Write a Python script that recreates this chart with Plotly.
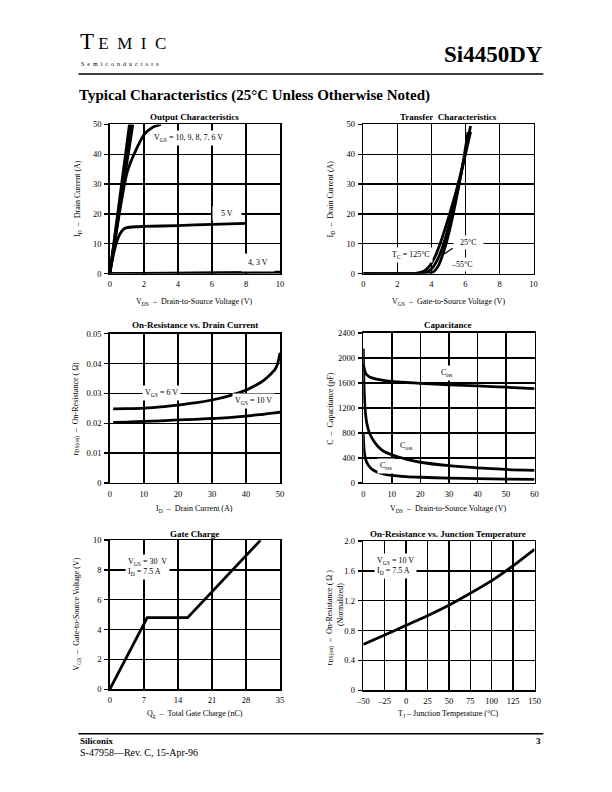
import plotly.graph_objects as go

W, H = 612, 792
SERIF = "Liberation Serif"

# ---------------- data ----------------
# Output characteristics (V_DS in V, I_D in A)
out_vds_10 = [0, 1.15]; out_id_10 = [0, 50]
out_vds_9 = [0, 1.21]; out_id_9 = [0, 50]
out_vds_8 = [0, 1.28]; out_id_8 = [0, 50]
out_vds_7 = [0, 1.36]; out_id_7 = [0, 50]
out_vds_6 = [0, 0.5, 0.8, 1.0, 1.2, 1.5, 1.8, 2.0, 2.5, 3.0]
out_id_6 = [0, 18, 28, 33.5, 37, 41, 44.5, 46.5, 49, 50]
out_vds_5 = [0, 0.2, 0.4, 0.6, 0.8, 1.0, 1.5, 2, 4, 6, 8]
out_id_5 = [0, 6, 10.5, 13.3, 14.8, 15.4, 15.7, 15.8, 16.1, 16.5, 16.8]
out_vds_4 = [0, 10]; out_id_4 = [0, 0.5]
out_vds_3 = [0, 10]; out_id_3 = [0, 0.25]

# Transfer characteristics (V_GS in V, I_D in A)
tr_vgs_125 = [0, 3.0, 3.3, 3.6, 3.9, 4.2, 4.5, 4.8, 5.1, 5.4, 5.7, 6.0, 6.3]
tr_id_125 = [0, 0, 0.3, 1.0, 2.6, 5.5, 9.8, 15, 20.5, 26.5, 33, 40, 47.5]
tr_vgs_25 = [0, 3.4, 3.7, 4.0, 4.3, 4.6, 4.9, 5.2, 5.5, 5.8, 6.1, 6.3]
tr_id_25 = [0, 0, 0.4, 1.5, 4.0, 8.0, 13.5, 20, 27, 35, 43.5, 49.5]
tr_vgs_m55 = [0, 3.8, 4.1, 4.4, 4.7, 5.0, 5.3, 5.6, 5.9, 6.15]
tr_id_m55 = [0, 0, 0.5, 2.5, 7, 13, 20.5, 29, 38.5, 47.5]
tr_leader_v = [4.75, 5.25]
tr_leader_i = [6.6, 8.5]

# On-resistance vs drain current
ron_id = [1, 5, 10, 15, 20, 25, 30, 35, 40, 43, 45, 47, 48.5, 49.3, 50]
ron_vgs6 = [0.0248, 0.0249, 0.0251, 0.0255, 0.0261, 0.0268, 0.0278, 0.0292,
            0.0311, 0.0328, 0.0342, 0.0362, 0.038, 0.040, 0.0436]
ron_vgs10 = [0.0203, 0.0204, 0.0206, 0.0208, 0.0211, 0.0213, 0.0216, 0.0219,
             0.0224, 0.0228, 0.023, 0.0233, 0.0235, 0.0236, 0.0237]

# Capacitance (pF)
cap_vds = [0, 0.3, 0.7, 1.2, 2, 3, 5, 7, 10, 15, 20, 30, 40, 50, 60]
cap_ciss = [1900, 1830, 1770, 1730, 1700, 1680, 1655, 1640, 1622, 1605, 1592, 1568, 1550, 1530, 1508]
cap_coss = [2150, 1500, 1150, 960, 820, 720, 590, 510, 450, 380, 330, 275, 240, 215, 200]
cap_crss = [780, 520, 400, 330, 270, 220, 170, 145, 120, 100, 90, 76, 67, 60, 55]

# Gate charge
gc_qg = [0, 7.7, 16, 31]
gc_vgs = [0, 4.8, 4.8, 10]

# On-resistance vs junction temperature
tj_temp = [-50, -25, 0, 25, 50, 75, 100, 125, 150]
tj_rnorm = [0.615, 0.74, 0.87, 1.0, 1.14, 1.3, 1.47, 1.67, 1.89]
tj_ticks = [-50, -25, 0, 25, 50, 75, 100, 125, 150]
tj_ticktext = ["–50", "–25", "0", "25", "50", "75", "100", "125", "150"]
tj_yticks = [0, 0.4, 0.8, 1.2, 1.6, 2.0]
tj_yticktext = ["0", "0.4", "0.8", "1.2", "1.6", "2.0"]


def px(x):
    return x / W


def py(y):
    return 1 - y / H


fig = go.Figure()
LW = 2.8


def line(x, y, ax, shape="spline", width=LW):
    fig.add_trace(go.Scatter(
        x=x, y=y, mode="lines", xaxis="x" + ax, yaxis="y" + ax,
        line=dict(color="black", width=width, shape=shape, smoothing=0.6),
        hoverinfo="skip", showlegend=False))


# chart 1
for xs, ys in [(out_vds_10, out_id_10), (out_vds_9, out_id_9), (out_vds_8, out_id_8),
               (out_vds_7, out_id_7), (out_vds_4, out_id_4), (out_vds_3, out_id_3)]:
    line(xs, ys, "", shape="linear", width=2.6)
line(out_vds_6, out_id_6, "")
line(out_vds_5, out_id_5, "")
# chart 2
line(tr_vgs_125, tr_id_125, "2")
line(tr_vgs_25, tr_id_25, "2")
line(tr_vgs_m55, tr_id_m55, "2")
line(tr_leader_v, tr_leader_i, "2", shape="linear", width=1.2)
# chart 3
line(ron_id, ron_vgs6, "3")
line(ron_id, ron_vgs10, "3")
# chart 4
line(cap_vds, cap_ciss, "4")
line(cap_vds, cap_coss, "4")
line(cap_vds, cap_crss, "4")
# chart 5
line(gc_qg, gc_vgs, "5", shape="linear")
# chart 6
line(tj_temp, tj_rnorm, "6")


def xaxis(x0, x1, rng, dtick, anchor, **kw):
    d = dict(domain=[px(x0), px(x1)], range=rng, dtick=dtick, anchor=anchor,
             showgrid=True, gridcolor="black", gridwidth=1.4,
             showline=True, linecolor="black", linewidth=1.6, mirror=True,
             zeroline=False, ticks="", ticklabelstandoff=2,
             tickfont=dict(family=SERIF, size=8.5, color="black"))
    d.update(kw)
    return d


def yaxis(y0, y1, rng, dtick, anchor, **kw):
    d = dict(domain=[py(y1), py(y0)], range=rng, dtick=dtick, anchor=anchor,
             showgrid=True, gridcolor="black", gridwidth=1.4,
             showline=True, linecolor="black", linewidth=1.6, mirror=True,
             zeroline=False, ticks="outside", ticklen=4, tickwidth=1.4,
             tickcolor="black", ticklabelstandoff=1,
             tickfont=dict(family=SERIF, size=8.5, color="black"))
    d.update(kw)
    return d


fig.update_layout(
    width=W, height=H, margin=dict(l=0, r=0, t=0, b=0),
    paper_bgcolor="white", plot_bgcolor="white", showlegend=False,
    xaxis=xaxis(105, 279, [0, 10], 2, "y"),
    yaxis=yaxis(121, 272, [0, 50], 10, "x"),
    xaxis2=xaxis(364, 538, [0, 10], 2, "y2"),
    yaxis2=yaxis(121, 272, [0, 50], 10, "x2"),
    xaxis3=xaxis(105, 279, [0, 50], 10, "y3"),
    yaxis3=yaxis(333, 484, [0, 0.05], 0.01, "x3"),
    xaxis4=xaxis(364, 539, [0, 60], 10, "y4"),
    yaxis4=yaxis(332, 484, [0, 2400], 400, "x4"),
    xaxis5=xaxis(105, 279, [0, 35], 7, "y5"),
    yaxis5=yaxis(542, 693, [0, 10], 2, "x5"),
    xaxis6=xaxis(364, 539, [-50, 150], 25, "y6", tickvals=tj_ticks, ticktext=tj_ticktext),
    yaxis6=yaxis(543, 694, [0, 2.0], 0.4, "x6", tickvals=tj_yticks, ticktext=tj_yticktext),
)

ann = []


def ptext(text, x, y, size=8.5, bold=False, xanchor="center", angle=0, family=SERIF, yanchor="middle"):
    t = "<b>" + text + "</b>" if bold else text
    ann.append(dict(text=t, x=px(x), y=py(y), xref="paper", yref="paper",
                    xanchor=xanchor, yanchor=yanchor, showarrow=False, textangle=angle,
                    font=dict(family=family, size=size, color="black")))


def dtext(text, x, y, ax, size=8, xanchor="center", bg="white", align="center", pad=2):
    ann.append(dict(text=text, x=x, y=y, xref="x" + ax, yref="y" + ax,
                    xanchor=xanchor, yanchor="middle", showarrow=False, align=align,
                    bgcolor=bg, borderpad=pad,
                    font=dict(family=SERIF, size=size, color="black")))


# header
ptext("T<span style='font-size:17px'> E  M  I  C</span>", 73, 37, size=23, xanchor="left")
ptext("S  e  m  i  c  o  n  d  u  c  t  o  r  s", 74, 60, size=6, xanchor="left")
ptext("Si4450DY", 550, 50, size=23, bold=True, xanchor="right")
ptext("Typical Characteristics (25°C Unless Otherwise Noted)", 72, 92, size=15, bold=True, xanchor="left")
# footer
ptext("Siliconix", 73, 745, size=9, bold=True, xanchor="left")
ptext("3", 548, 745, size=9, bold=True, xanchor="right")
ptext("S-47958—Rev. C, 15-Apr-96", 73, 757, size=10, xanchor="left")

# chart titles
ptext("Output Characteristics", 192, 113, size=9, bold=True)
ptext("Transfer  Characteristics", 451, 113, size=9, bold=True)
ptext("On-Resistance vs. Drain Current", 192, 324, size=9, bold=True)
ptext("Capacitance", 451, 324, size=9, bold=True)
ptext("Gate Charge", 192, 536, size=9, bold=True)
ptext("On-Resistance vs. Junction Temperature", 451, 536, size=9, bold=True)

# x titles
ptext("V<sub>DS</sub>  –  Drain-to-Source Voltage (V)", 192, 301, size=8)
ptext("V<sub>GS</sub>  –  Gate-to-Source Voltage (V)", 451, 301, size=8)
ptext("I<sub>D</sub>  –  Drain Current (A)", 192, 510, size=8)
ptext("V<sub>DS</sub>  –  Drain-to-Source Voltage (V)", 451, 510, size=8)
ptext("Q<sub>g</sub>  –  Total Gate Charge (nC)", 192, 718, size=8)
ptext("T<sub>J</sub> – Junction Temperature (°C)", 451, 718, size=8)

# y titles
ptext("I<sub>D</sub>  –  Drain Current (A)", 72, 196, size=8, angle=-90)
ptext("I<sub>D</sub>  –  Drain Current (A)", 331, 196, size=8, angle=-90)
ptext("r<sub>DS(on)</sub>  –  On-Resistance ( Ω)", 71, 409, size=8, angle=-90)
ptext("C  –  Capacitance (pF)", 331, 408, size=8, angle=-90)
ptext("V<sub>GS</sub>  –  Gate-to-Source Voltage (V)", 72, 617, size=8, angle=-90)
ptext("r<sub>DS(on)</sub>  –  On-Resistance ( Ω )", 330, 620, size=8, angle=-90)
ptext("(Normalized)", 341, 607, size=8, angle=-90)

# curve labels
dtext("V<sub>GS</sub> = 10, 9, 8, 7, 6 V", 4.65, 45.3, "")
dtext("   5 V   ", 6.9, 20, "")
dtext(" 4, 3 V ", 8.7, 3.6, "", pad=4)
dtext("T<sub>C</sub> = 125°C", 2.8, 6.2, "2")
dtext("  25°C  ", 6.2, 10.4, "2")
dtext(" –55°C ", 5.85, 3.2, "2")
dtext("V<sub>GS</sub> = 6 V", 15.3, 0.03, "3")
dtext("V<sub>GS</sub> = 10 V", 42.3, 0.0273, "3")
dtext("C<sub>iss</sub>", 29, 1750, "4")
dtext("C<sub>oss</sub>", 15, 590, "4")
dtext("C<sub>rss</sub>", 7.8, 275, "4")
dtext("V<sub>GS</sub> = 30  V<br>I<sub>D</sub> = 7.5 A", 3.1, 8.2, "5", xanchor="left", align="left")
dtext("V<sub>GS</sub> = 10 V<br>I<sub>D</sub> = 7.5 A", -38, 1.66, "6", xanchor="left", align="left")

fig.update_layout(annotations=ann)

fig.update_layout(shapes=[
    dict(type="line", xref="paper", yref="paper", x0=px(73), x1=px(548), y0=py(70), y1=py(70),
         line=dict(color="black", width=1.5)),
    dict(type="line", xref="paper", yref="paper", x0=px(73), x1=px(548), y0=py(738), y1=py(738),
         line=dict(color="black", width=1.5)),
])

fig.write_html("out.html", config={"displayModeBar": False, "staticPlot": True},
               post_script="document.body.style.margin='0';document.body.style.overflow='hidden';")
